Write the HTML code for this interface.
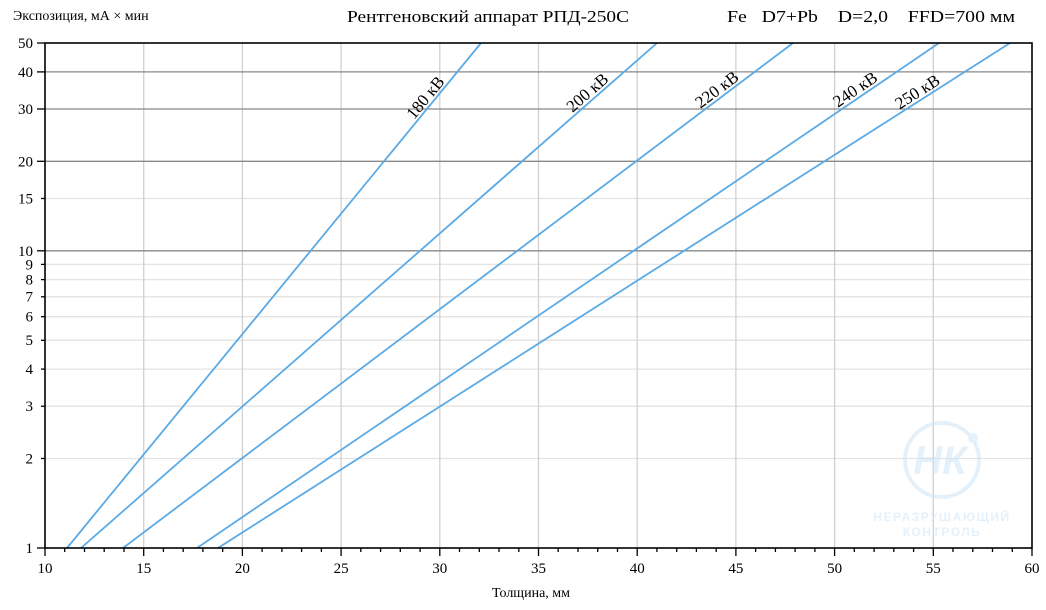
<!DOCTYPE html>
<html><head><meta charset="utf-8"><style>
html,body{margin:0;padding:0;background:#fff;}
svg{display:block;font-family:"Liberation Serif",serif;}
</style></head><body>
<svg width="1046" height="610" viewBox="0 0 1046 610" xmlns="http://www.w3.org/2000/svg">
<g stroke="#e3e3e3" stroke-width="1.3">
<line x1="45" x2="1032" y1="458.5" y2="458.5"/>
<line x1="45" x2="1032" y1="406.2" y2="406.2"/>
<line x1="45" x2="1032" y1="369.1" y2="369.1"/>
<line x1="45" x2="1032" y1="340.3" y2="340.3"/>
<line x1="45" x2="1032" y1="316.7" y2="316.7"/>
<line x1="45" x2="1032" y1="296.8" y2="296.8"/>
<line x1="45" x2="1032" y1="279.6" y2="279.6"/>
<line x1="45" x2="1032" y1="264.4" y2="264.4"/>
<line x1="45" x2="1032" y1="198.5" y2="198.5"/>
</g>
<g stroke="#d0d0d0" stroke-width="1.3">
<line y1="43" y2="548" x1="143.7" x2="143.7"/>
<line y1="43" y2="548" x1="242.4" x2="242.4"/>
<line y1="43" y2="548" x1="341.1" x2="341.1"/>
<line y1="43" y2="548" x1="439.8" x2="439.8"/>
<line y1="43" y2="548" x1="538.5" x2="538.5"/>
<line y1="43" y2="548" x1="637.2" x2="637.2"/>
<line y1="43" y2="548" x1="735.9" x2="735.9"/>
<line y1="43" y2="548" x1="834.6" x2="834.6"/>
<line y1="43" y2="548" x1="933.3" x2="933.3"/>
</g>
<g stroke="#888" stroke-width="1.3">
<line x1="45" x2="1032" y1="250.8" y2="250.8"/>
<line x1="45" x2="1032" y1="161.3" y2="161.3"/>
<line x1="45" x2="1032" y1="109" y2="109"/>
<line x1="45" x2="1032" y1="71.9" y2="71.9"/>
</g>
<g stroke="#5aaae6" stroke-width="1.8" fill="none">
<line x1="67" y1="548" x2="481" y2="43"/>
<line x1="81" y1="548" x2="657" y2="43"/>
<line x1="123" y1="548" x2="793" y2="43"/>
<line x1="197" y1="548" x2="939" y2="43"/>
<line x1="218" y1="548" x2="1010" y2="43"/>
</g>
<rect x="45" y="43" width="987" height="505" fill="none" stroke="#000" stroke-width="1.6"/>
<g stroke="#000" stroke-width="1.3">
<line x1="37" x2="45" y1="548" y2="548"/>
<line x1="41" x2="45" y1="458.5" y2="458.5"/>
<line x1="41" x2="45" y1="406.2" y2="406.2"/>
<line x1="41" x2="45" y1="369.1" y2="369.1"/>
<line x1="41" x2="45" y1="340.3" y2="340.3"/>
<line x1="41" x2="45" y1="316.7" y2="316.7"/>
<line x1="41" x2="45" y1="296.8" y2="296.8"/>
<line x1="41" x2="45" y1="279.6" y2="279.6"/>
<line x1="41" x2="45" y1="264.4" y2="264.4"/>
<line x1="37" x2="45" y1="250.8" y2="250.8"/>
<line x1="41" x2="45" y1="198.5" y2="198.5"/>
<line x1="37" x2="45" y1="161.3" y2="161.3"/>
<line x1="37" x2="45" y1="109" y2="109"/>
<line x1="37" x2="45" y1="71.9" y2="71.9"/>
<line x1="37" x2="45" y1="43" y2="43"/>
</g>
<g stroke="#000" stroke-width="1.3">
<line y1="548" y2="556" x1="45" x2="45"/>
<line y1="548" y2="556" x1="143.7" x2="143.7"/>
<line y1="548" y2="556" x1="242.4" x2="242.4"/>
<line y1="548" y2="556" x1="341.1" x2="341.1"/>
<line y1="548" y2="556" x1="439.8" x2="439.8"/>
<line y1="548" y2="556" x1="538.5" x2="538.5"/>
<line y1="548" y2="556" x1="637.2" x2="637.2"/>
<line y1="548" y2="556" x1="735.9" x2="735.9"/>
<line y1="548" y2="556" x1="834.6" x2="834.6"/>
<line y1="548" y2="556" x1="933.3" x2="933.3"/>
<line y1="548" y2="556" x1="1032" x2="1032"/>
</g>
<g stroke="#000" stroke-width="1.3">
<line y1="548" y2="552" x1="64.7" x2="64.7"/><line y1="548" y2="552" x1="84.5" x2="84.5"/><line y1="548" y2="552" x1="104.2" x2="104.2"/><line y1="548" y2="552" x1="124" x2="124"/>
<line y1="548" y2="552" x1="163.4" x2="163.4"/><line y1="548" y2="552" x1="183.2" x2="183.2"/><line y1="548" y2="552" x1="202.9" x2="202.9"/><line y1="548" y2="552" x1="222.7" x2="222.7"/>
<line y1="548" y2="552" x1="262.1" x2="262.1"/><line y1="548" y2="552" x1="281.9" x2="281.9"/><line y1="548" y2="552" x1="301.6" x2="301.6"/><line y1="548" y2="552" x1="321.4" x2="321.4"/>
<line y1="548" y2="552" x1="360.8" x2="360.8"/><line y1="548" y2="552" x1="380.6" x2="380.6"/><line y1="548" y2="552" x1="400.3" x2="400.3"/><line y1="548" y2="552" x1="420.1" x2="420.1"/>
<line y1="548" y2="552" x1="459.5" x2="459.5"/><line y1="548" y2="552" x1="479.3" x2="479.3"/><line y1="548" y2="552" x1="499" x2="499"/><line y1="548" y2="552" x1="518.8" x2="518.8"/>
<line y1="548" y2="552" x1="558.2" x2="558.2"/><line y1="548" y2="552" x1="578" x2="578"/><line y1="548" y2="552" x1="597.7" x2="597.7"/><line y1="548" y2="552" x1="617.5" x2="617.5"/>
<line y1="548" y2="552" x1="656.9" x2="656.9"/><line y1="548" y2="552" x1="676.7" x2="676.7"/><line y1="548" y2="552" x1="696.4" x2="696.4"/><line y1="548" y2="552" x1="716.2" x2="716.2"/>
<line y1="548" y2="552" x1="755.6" x2="755.6"/><line y1="548" y2="552" x1="775.4" x2="775.4"/><line y1="548" y2="552" x1="795.1" x2="795.1"/><line y1="548" y2="552" x1="814.9" x2="814.9"/>
<line y1="548" y2="552" x1="854.3" x2="854.3"/><line y1="548" y2="552" x1="874.1" x2="874.1"/><line y1="548" y2="552" x1="893.8" x2="893.8"/><line y1="548" y2="552" x1="913.6" x2="913.6"/>
<line y1="548" y2="552" x1="953" x2="953"/><line y1="548" y2="552" x1="972.8" x2="972.8"/><line y1="548" y2="552" x1="992.5" x2="992.5"/><line y1="548" y2="552" x1="1012.3" x2="1012.3"/>
</g>
<g font-size="15" text-anchor="end" fill="#000">
<text x="33" y="553">1</text>
<text x="33" y="463.5">2</text>
<text x="33" y="411">3</text>
<text x="33" y="374">4</text>
<text x="33" y="345">5</text>
<text x="33" y="321.5">6</text>
<text x="33" y="301.5">7</text>
<text x="33" y="284.5">8</text>
<text x="33" y="269.5">9</text>
<text x="33" y="256">10</text>
<text x="33" y="203.5">15</text>
<text x="33" y="166.5">20</text>
<text x="33" y="114">30</text>
<text x="33" y="77">40</text>
<text x="33" y="48">50</text>
</g>
<g font-size="15" text-anchor="middle" fill="#000">
<text x="45" y="573">10</text>
<text x="143.7" y="573">15</text>
<text x="242.4" y="573">20</text>
<text x="341.1" y="573">25</text>
<text x="439.8" y="573">30</text>
<text x="538.5" y="573">35</text>
<text x="637.2" y="573">40</text>
<text x="735.9" y="573">45</text>
<text x="834.6" y="573">50</text>
<text x="933.3" y="573">55</text>
<text x="1032" y="573">60</text>
</g>
<text x="531" y="597" font-size="14" text-anchor="middle">Толщина, мм</text>
<text x="13" y="20" font-size="14">Экспозиция, мА × мин</text>
<text x="347" y="22" font-size="17" textLength="282" lengthAdjust="spacingAndGlyphs">Рентгеновский аппарат РПД-250С</text>
<text x="727" y="22" font-size="17" xml:space="preserve" textLength="288" lengthAdjust="spacingAndGlyphs">Fe   D7+Pb    D=2,0    FFD=700 мм</text>
<g font-size="17" text-anchor="middle">
<text transform="translate(432,103) rotate(-50.6)" y="-3">180 кВ</text>
<text transform="translate(593,99) rotate(-41.2)" y="-3">200 кВ</text>
<text transform="translate(722,96.4) rotate(-37)" y="-3">220 кВ</text>
<text transform="translate(860,96.5) rotate(-34.2)" y="-3">240 кВ</text>
<text transform="translate(922,99) rotate(-32.5)" y="-3">250 кВ</text>
</g>
<g opacity="0.55">
<circle cx="942" cy="460" r="37" fill="none" stroke="#cfe6f8" stroke-width="4"/>
<circle cx="973" cy="438" r="5" fill="#cfe6f8"/>
<text x="940" y="474" font-family="Liberation Sans,sans-serif" font-weight="bold" font-style="italic" font-size="40" fill="#cfe6f8" text-anchor="middle">НК</text>
<text x="942" y="521" font-family="Liberation Sans,sans-serif" font-weight="bold" font-size="12" fill="#cfe6f8" text-anchor="middle" letter-spacing="1.5">НЕРАЗРУШАЮЩИЙ</text>
<text x="942" y="536" font-family="Liberation Sans,sans-serif" font-weight="bold" font-size="12" fill="#cfe6f8" text-anchor="middle" letter-spacing="1.5">КОНТРОЛЬ</text>
</g>
</svg>
</body></html>
